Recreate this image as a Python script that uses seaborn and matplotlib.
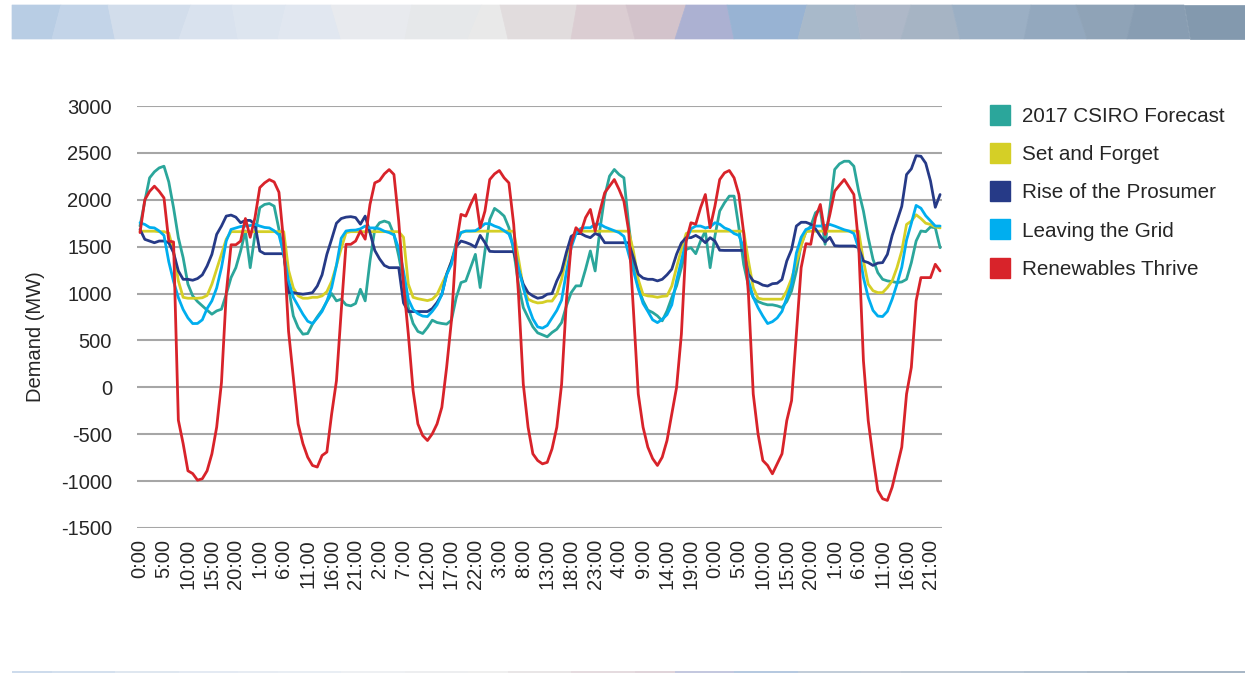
import matplotlib
matplotlib.use("Agg")
import matplotlib.pyplot as plt
from matplotlib.patches import Polygon
from matplotlib.lines import Line2D
import pandas as pd
import seaborn as sns

# ---------------- data ----------------
hours = list(range(168))
tick_positions = list(range(0, 168, 5))
tick_labels = [f"{h % 24}:00" for h in tick_positions]
y_ticks = [-1500, -1000, -500, 0, 500, 1000, 1500, 2000, 2500, 3000]

scenarios = ["2017 CSIRO Forecast", "Set and Forget", "Rise of the Prosumer",
             "Leaving the Grid", "Renewables Thrive"]

csiro_forecast = [
    1720, 1985, 2234, 2298, 2340, 2358, 2191, 1915, 1596, 1383, 1100, 975, 915, 869, 823, 780, 815, 833, 993, 1170,
    1276, 1454, 1667, 1276, 1631, 1915, 1950,
    1960, 1932, 1684, 1418, 1064, 762, 638, 567, 574, 674, 752, 823, 915, 1000, 922, 940, 880, 869, 894, 1046,
    922, 1347, 1684, 1755, 1773, 1755, 1631, 1400, 1135,
    851, 681, 596, 574, 638, 716, 691, 681, 674, 716, 957, 1117, 1135, 1276, 1418, 1064, 1454, 1790, 1908, 1872,
    1826, 1702, 1454, 1100, 851, 745, 645, 581,
    560, 539, 585, 620, 691, 869, 1010, 1082, 1082, 1259, 1454, 1241, 1684, 2039, 2252, 2323, 2269, 2234, 1737, 1312,
    1064, 922, 823, 798, 762, 709, 815, 957,
    1082, 1276, 1471, 1489, 1425, 1560, 1667, 1276, 1613, 1880, 1968, 2039, 2039, 1702, 1312, 1082, 957, 915, 894, 880,
    880, 869, 851, 915, 1028, 1241, 1525, 1660,
    1720, 1862, 1897, 1525, 1915, 2323, 2383, 2411, 2411, 2358, 2092, 1880, 1596, 1365, 1223, 1152, 1135, 1128, 1117, 1124,
    1152, 1330, 1560, 1667, 1660, 1710, 1702, 1489,
]

set_and_forget = [
    1665, 1665, 1665, 1665, 1660, 1660, 1645, 1450, 1135, 960, 950, 950, 950, 955, 980, 1100, 1260, 1420, 1580, 1660,
    1660, 1660, 1660, 1660, 1660, 1660, 1660,
    1660, 1660, 1660, 1660, 1250, 1060, 975, 950, 950, 960, 960, 975, 1020, 1130, 1300, 1480, 1650,
    1660, 1660, 1660, 1660, 1660, 1660, 1660, 1660, 1660, 1660, 1660, 1600,
    1100, 960, 945, 935, 925, 940, 990, 1100, 1206, 1340, 1540, 1650,
    1665, 1665, 1665, 1665, 1665, 1665, 1665, 1665, 1665, 1665, 1665, 1370, 1064, 940, 915, 900,
    904, 920, 920, 993, 1150, 1400, 1580, 1665,
    1665, 1665, 1665, 1665, 1665, 1665, 1665, 1665, 1665, 1665, 1665,
    1450, 1150, 990, 975, 970, 960, 970, 975, 1080,
    1280, 1470, 1640, 1665, 1665, 1665, 1665, 1665, 1665, 1665, 1665, 1665, 1665, 1665, 1665,
    1347, 1064, 950, 940, 940, 940, 940, 940, 1030, 1160, 1330, 1510, 1660,
    1665, 1665, 1665, 1665, 1665, 1665, 1665, 1665, 1665, 1665, 1665,
    1350, 1100, 1030, 1010, 1010, 1064, 1135, 1276, 1454, 1737, 1773, 1840, 1800, 1750, 1737, 1710, 1700,
]

rise_of_prosumer = [
    1684, 1578, 1560, 1542, 1560, 1560, 1542, 1436, 1241, 1152, 1152, 1142, 1160, 1199, 1294, 1418, 1631, 1720, 1826, 1837,
    1815, 1755, 1780, 1780, 1737, 1454, 1425,
    1425, 1425, 1425, 1425, 1010, 1010, 1000, 993, 1000, 1010, 1080, 1200, 1418, 1580, 1750, 1800, 1815, 1820, 1810, 1740,
    1826, 1650, 1460, 1370, 1300, 1276, 1276, 1276, 900,
    808, 808, 808, 808, 808, 840, 904, 990, 1206, 1340, 1500, 1560, 1545, 1525, 1495, 1620, 1542, 1450, 1447, 1447,
    1447, 1447, 1447, 1250, 1100, 1010, 975, 950,
    960, 993, 1000, 1135, 1241, 1440, 1610, 1640, 1640, 1613, 1596, 1640, 1620, 1542, 1542, 1542, 1542, 1542, 1542, 1380,
    1206, 1165, 1152, 1152, 1135, 1152, 1200, 1260,
    1420, 1540, 1596, 1596, 1620, 1590, 1542, 1596, 1560, 1462, 1460, 1460, 1460, 1460, 1460, 1206, 1135, 1117, 1090, 1080,
    1105, 1110, 1150, 1347, 1470, 1720, 1760, 1760,
    1740, 1690, 1613, 1550, 1600, 1510, 1507, 1507, 1507, 1507, 1489, 1347, 1330, 1300, 1325, 1330, 1418, 1620, 1773, 1930,
    2269, 2330, 2470, 2464, 2390, 2200, 1920, 2056,
]

leaving_the_grid = [
    1755, 1737, 1705, 1700, 1667, 1620, 1340, 1130, 957, 830, 740, 680, 681, 720, 840, 922, 1060, 1276, 1560, 1684,
    1700, 1715, 1720, 1725, 1737, 1720, 1705,
    1700, 1670, 1625, 1420, 1135, 960, 870, 780, 705, 680, 740, 810, 920, 1064, 1300, 1590, 1667, 1675, 1677, 1690,
    1720, 1700, 1700, 1690, 1665, 1650, 1625, 1480, 1240,
    940, 830, 785, 760, 755, 810, 880, 990, 1200, 1310, 1540, 1650, 1667, 1667, 1670, 1702, 1745, 1745, 1720, 1702,
    1670, 1635, 1500, 1276, 1064, 870, 730, 645,
    631, 660, 740, 820, 930, 1230, 1490, 1640, 1695, 1702, 1702, 1740, 1740, 1710, 1690, 1670, 1650, 1610, 1420, 1241,
    1050, 895, 810, 720, 690, 725, 775, 880,
    1140, 1350, 1560, 1690, 1720, 1720, 1700, 1710, 1755, 1740, 1700, 1680, 1640, 1620, 1489, 1140, 960, 850, 760, 680,
    700, 740, 810, 957, 1100, 1430, 1600, 1684,
    1702, 1720, 1720, 1725, 1737, 1720, 1700, 1680, 1667, 1640, 1480, 1170, 960, 820, 760, 755, 810, 940, 1100, 1280,
    1570, 1750, 1940, 1910, 1830, 1775, 1720, 1720,
]

renewables_thrive = [
    1650, 2000, 2090, 2145, 2090, 2020, 1560, 1550, -350, -600, -890, -920, -990, -975, -890, -710, -425, 50, 1000, 1520,
    1520, 1560, 1800, 1600, 1810, 2130, 2180,
    2215, 2190, 2080, 1540, 600, 106, -390, -600, -745, -833, -850, -727, -690, -284, 70, 815, 1525, 1525, 1560, 1667,
    1580, 1950, 2180, 2205, 2276, 2322, 2270, 1773, 1100,
    570, -35, -390, -514, -567, -496, -390, -213, 213, 709, 1525, 1844, 1826, 1950, 2056, 1702, 1880, 2216, 2276, 2312,
    2234, 2180, 1737, 993, 35, -425, -709, -780,
    -816, -800, -656, -425, 35, 922, 1525, 1702, 1650, 1810, 1897, 1667, 1880, 2075, 2145, 2216, 2110, 1985, 1667, 815,
    -71, -425, -638, -760, -833, -745, -567, -284,
    0, 567, 1560, 1755, 1740, 1915, 2056, 1702, 1932, 2216, 2287, 2312, 2234, 2056, 1650, 993, -71, -496, -780, -833,
    -922, -816, -709, -355, -142, 567, 1276, 1532,
    1525, 1810, 1950, 1631, 1844, 2092, 2156, 2216, 2135, 2056, 1525, 284, -355, -745, -1100, -1188, -1206, -1064, -851, -638,
    -71, 213, 922, 1170, 1170, 1170, 1312, 1241,
]

series_values = [csiro_forecast, set_and_forget, rise_of_prosumer, leaving_the_grid, renewables_thrive]
colors = ["#2BA69B", "#D5CF26", "#263A87", "#00AEEF", "#D8232A"]

# ---------------- figure ----------------
W, H = 1245, 674
sns.set_theme(style="white")
plt.rcParams["font.family"] = ["Liberation Sans", "DejaVu Sans"]
FS = 14.5
TXT = "#262626"

fig = plt.figure(figsize=(W / 100, H / 100), dpi=100)
fig.patch.set_facecolor("white")


def fx(px):
    return px / W


def fy(py):
    return 1 - py / H


# decorative mosaic banner on top
bounds = [12, 52, 115, 179, 238, 278, 341, 405, 468, 508, 571, 635, 675, 734, 798, 861, 901, 960,
          1024, 1087, 1127, 1190, 1245]
offs = [0, 9, -7, 12, -6, 8, -10, 7, 14, -8, 6, -9, 11, -7, 9, -6, 10, -8, 7, -11, 8, -6, 0]
banner_cols = ["#B8CDE4", "#C3D4E8", "#D2DDEB", "#D9E2EE", "#DDE5EF", "#E1E7F0", "#E8EAEE", "#E6E8EA",
               "#E9E9E9", "#E1DCDD", "#DBCDD2", "#D3C3CB", "#ACB1D2", "#98B3D3", "#A8B9CA", "#AEB8C8",
               "#A6B4C4", "#9BAFC4", "#93A8BE", "#8FA3B7", "#889DB2", "#8399AE"]
top, bot = 5, 39
for k, c in enumerate(banner_cols):
    verts = [(fx(bounds[k] + offs[k]), fy(top)), (fx(bounds[k + 1] + offs[k + 1]), fy(top)),
             (fx(bounds[k + 1]), fy(bot)), (fx(bounds[k]), fy(bot))]
    fig.add_artist(Polygon(verts, closed=True, transform=fig.transFigure,
                           facecolor=c, edgecolor=c, lw=0.5))
    # thin footer rule using the same tones
    fverts = [(fx(bounds[k]), fy(671)), (fx(bounds[k + 1]), fy(671)),
              (fx(bounds[k + 1]), fy(673)), (fx(bounds[k]), fy(673))]
    fig.add_artist(Polygon(fverts, closed=True, transform=fig.transFigure,
                           facecolor=c, edgecolor="none", alpha=0.7))

# main axes
ax = fig.add_axes([fx(137), fy(528), fx(942 - 137), (528 - 106) / H])

long = pd.DataFrame({
    "hour": hours * len(scenarios),
    "demand": sum(series_values, []),
    "scenario": [s for s in scenarios for _ in hours],
})
sns.lineplot(data=long, x="hour", y="demand", hue="scenario", hue_order=scenarios,
             palette=dict(zip(scenarios, colors)), linewidth=2.0, estimator=None,
             legend=False, ax=ax, zorder=3)

ax.set_xlim(-0.63, 167.4)
ax.set_ylim(-1500, 3000)
ax.set_yticks(y_ticks)
ax.set_yticklabels([str(v) for v in y_ticks])
ax.set_xticks(tick_positions)
ax.set_xticklabels(tick_labels, rotation=90, va="top", ha="center")
ax.grid(False)
ax.yaxis.grid(True, color="#A6A6A6", linewidth=1.5, zorder=0)
for s in ax.spines.values():
    s.set_visible(False)
ax.tick_params(axis="y", length=0, pad=18, labelsize=FS, labelcolor=TXT)
ax.tick_params(axis="x", length=0, pad=8, labelsize=FS, labelcolor=TXT)
ax.set_xlabel("")
ax.set_ylabel("Demand (MW)", fontsize=FS, color=TXT, va="center")
ax.yaxis.set_label_coords((36 - 137) / (942 - 137), (528 - 337) / (528 - 106))

handles = [Line2D([], [], marker="s", linestyle="none", markersize=13.7,
                  markerfacecolor=c, markeredgecolor=c) for c in colors]
fig.legend(handles, scenarios, loc="upper left", bbox_to_anchor=(fx(990), fy(107)),
           bbox_transform=fig.transFigure, frameon=False, fontsize=FS + 0.4,
           handlelength=1.0, handletextpad=0.55, labelspacing=0.93,
           borderpad=0, borderaxespad=0, labelcolor=TXT)

fig.savefig("out.png", dpi=100, facecolor="white")
